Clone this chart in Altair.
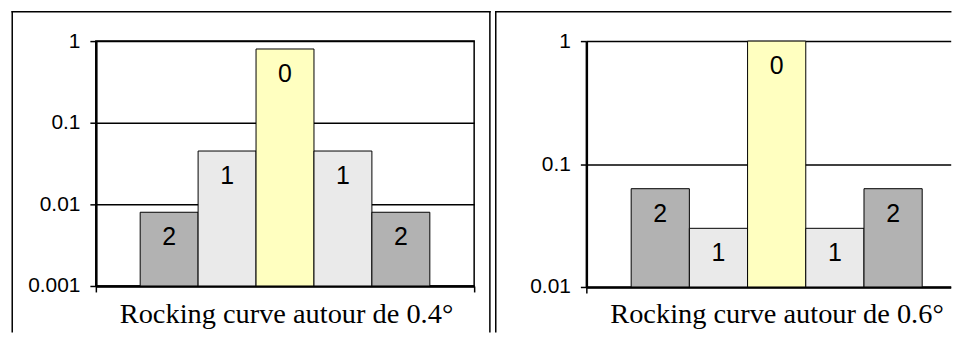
import altair as alt
import pandas as pd

# ---- data ----
positions = [0, 1, 2, 3, 4]
orders = ["2", "1", "0", "1", "2"]
left_values = [0.008, 0.045, 0.80, 0.045, 0.008]
right_values = [0.063, 0.030, 1.0, 0.030, 0.063]
left_ticks = [0.001, 0.01, 0.1, 1]
right_ticks = [0.01, 0.1, 1]
left_title = "Rocking curve autour de 0.4°"
right_title = "Rocking curve autour de 0.6°"
order_domain = ["0", "1", "2"]
order_colors = ["#FFFFC0", "#EAEAEA", "#B2B2B2"]

FRAME_W = 1.5
FRAME_BOTTOM = 292  # keep the page from overflowing the window


def panel(values, ticks, x_domain, x_tick_values, width, height, title,
          frame_right, draw_right_edge, view_stroke):
    df = pd.DataFrame({"pos": positions, "order": orders, "value": values})
    base = alt.Chart(df).transform_calculate(
        x0="datum.pos - 0.5", x1="datum.pos + 0.5"
    )
    xscale = alt.Scale(domain=x_domain, nice=False, zero=False)
    yscale = alt.Scale(type="log", domain=[ticks[0], ticks[-1]], nice=False)
    xaxis = alt.Axis(
        values=x_tick_values, labels=False, grid=False, ticks=True,
        tickSize=6, tickColor="black", tickWidth=1.5,
        domainColor="black", domainWidth=2.5,
        title=title, titleFont="Liberation Serif", titleFontSize=28.5,
        titleFontWeight="normal", titleColor="black",
        titleBaseline="alphabetic", titleAlign="center",
        titleX=191, titleY=323 - 40 - height,
    )
    yaxis = alt.Axis(
        values=ticks, format="~g", grid=True, gridColor="black", gridWidth=1.5,
        tickSize=6, tickColor="black", tickWidth=1.5,
        domainColor="black", domainWidth=2.5,
        labelFont="Liberation Sans", labelFontSize=21, labelColor="black",
        labelPadding=10, title=None,
    )
    bars = base.mark_bar(stroke="black", strokeWidth=1).encode(
        x=alt.X("x0:Q", scale=xscale, axis=xaxis),
        x2="x1:Q",
        y=alt.Y("value:Q", scale=yscale, axis=yaxis),
        y2=alt.datum(ticks[0]),
        color=alt.Color("order:N",
                        scale=alt.Scale(domain=order_domain, range=order_colors),
                        legend=None),
    )
    labels = base.mark_text(
        baseline="middle", align="center", dy=25,
        font="Liberation Sans", fontSize=25, color="black",
    ).encode(
        x=alt.X("pos:Q", scale=xscale),
        y=alt.Y("value:Q", scale=yscale),
        text="order:N",
    )
    one = pd.DataFrame({"k": [0]})
    frame = alt.Chart(one).mark_rule(color="black", strokeWidth=FRAME_W,
                                     strokeCap="square")
    left_x = -84 if draw_right_edge else -91
    layers = [
        bars,
        labels,
        frame.encode(x=alt.value(left_x), y=alt.value(-29.5),
                     y2=alt.value(FRAME_BOTTOM)),
        frame.encode(x=alt.value(left_x), x2=alt.value(frame_right),
                     y=alt.value(-29.5)),
    ]
    if draw_right_edge:
        layers.append(frame.encode(x=alt.value(frame_right), y=alt.value(-29.5),
                                   y2=alt.value(FRAME_BOTTOM)))
    return alt.layer(*layers).properties(
        width=width, height=height,
        view=alt.ViewBackground(stroke=view_stroke, strokeWidth=1.5),
    )


left = panel(left_values, left_ticks, [-1.265, 5.265], [-1.265, 5.265],
             380, 246, left_title, 395.8, True, "black")
right = panel(right_values, right_ticks, [-1.27, 4.99], [-1.27],
              366, 247, right_title, 366, False, "transparent")

chart = alt.hconcat(left, right, spacing=1.7).properties(
    padding={"left": 2.25, "top": 0.5, "right": 0, "bottom": 0},
    background="white",
)

chart.save("out.html", embed_options={"renderer": "svg", "actions": False})
